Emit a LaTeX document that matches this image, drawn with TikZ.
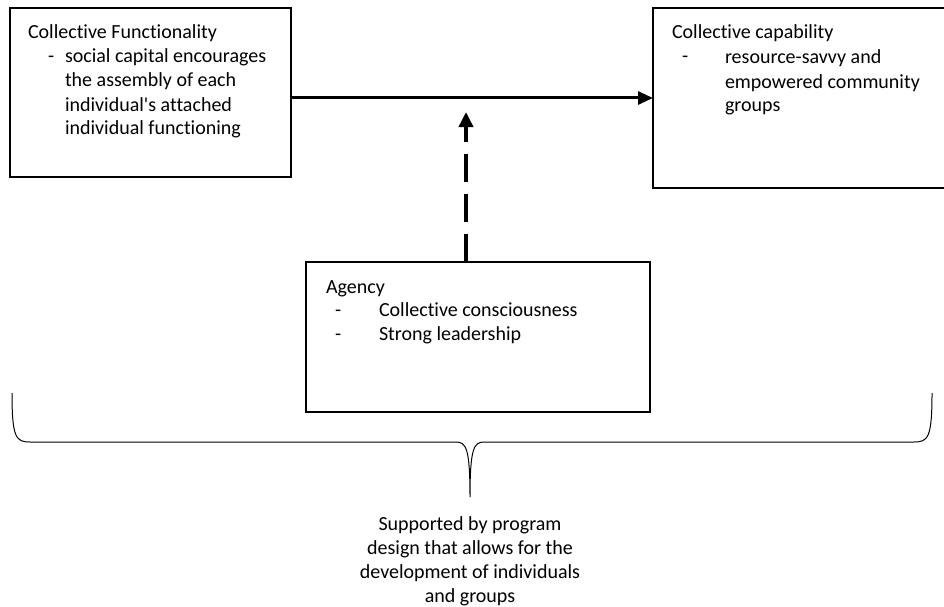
\documentclass[tikz,border=0pt]{standalone}
\usepackage{fontspec}
\setmainfont{Carlito}[Ligatures={NoCommon}]
\usepackage{xcolor}
\usetikzlibrary{arrows.meta,positioning,calc}
\definecolor{ink}{HTML}{000000}
\tikzset{
    every picture/.style={line join=miter},
    conceptbox/.style={draw=ink,fill=white,line width=2pt,rectangle,
      inner sep=0pt,outer sep=0pt},
    boxtext/.style={inner sep=0pt,outer sep=0pt,text=ink,align=left,
      font=\fontsize{20}{24}\selectfont},
    flowarrow/.style={-{Triangle[length=15pt,width=13pt]},draw=ink,
      line width=3pt},
    agencyarrow/.style={-{Triangle[length=15pt,width=14pt]},draw=ink,
      line width=3.5pt,dash pattern=on 28pt off 12pt},
    bracepath/.style={draw=ink,line width=1pt}
}
\begin{document}
\begin{tikzpicture}[x=1pt,y=-1pt]
  \useasboundingbox (0,0) rectangle (944,607);
  % the three boxes
  \node[conceptbox,minimum width=281pt,minimum height=169pt] (functioning) at (150.5,92.5) {};
  \node[conceptbox,minimum width=295pt,minimum height=180pt] (capability) at (800.5,98) {};
  \node[conceptbox,minimum width=344pt,minimum height=150pt] (agency) at (478,337) {};

  % multi-line texts sit on the baseline of their last line
  \node[boxtext,anchor=base west] (functioning-t) at (28,39) {Collective Functionality};
  \node[boxtext,anchor=base west] (functioning-d) at (48,63) {-};
  \node[boxtext,anchor=base west] (functioning-l) at (65,135)
    {social capital encourages\\the assembly of each\\individual\textquotesingle s attached\\individual functioning};

  \node[boxtext,anchor=base west] (capability-t) at (672,39) {Collective capability};
  \node[boxtext,anchor=base west] (capability-d) at (682,63) {-};
  \node[boxtext,anchor=base west] (capability-l) at (725,112)
    {resource-savvy and\\empowered community\\groups};

  \node[boxtext,anchor=base west] (agency-t) at (326,293) {Agency};
  \node[boxtext,anchor=base west] (agency-d) at (335,340) {-\\-};
  \node[boxtext,anchor=base west] (agency-l) at (379,340)
    {Collective consciousness\\Strong leadership};

  % connectors
  \draw[flowarrow] (functioning.east |- capability.west) -- (capability.west);
  \coordinate (agencytip) at (466,112);
  \draw[agencyarrow] (agencytip |- agency.north) -- (agencytip);

  % brace under everything
  \coordinate (braceleft) at (12,393);
  \coordinate (braceright) at (932,393);
  \coordinate (bracetip) at (470,497);
  \draw[bracepath] (braceleft) .. controls (12,438) and (16,442) .. (30,442)
    -- (456,442) .. controls (466,442) and (470,448) .. (bracetip)
    .. controls (470,448) and (474,442) .. (484,442)
    -- (914,442) .. controls (928,442) and (932,438) .. (braceright);

  \node[boxtext,align=center,anchor=base] (support) at (470,602)
    {Supported by program\\design that allows for the\\development of individuals\\and groups};
\end{tikzpicture}
\end{document}
